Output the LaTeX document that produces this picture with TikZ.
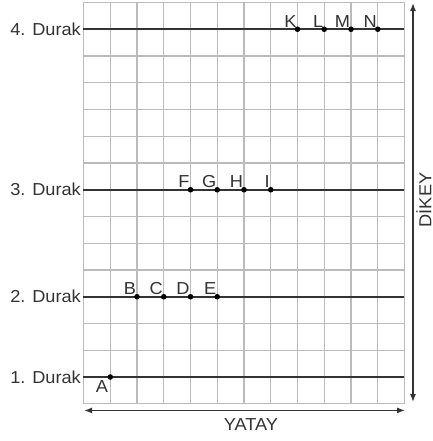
\documentclass[tikz,border=0pt]{standalone}
\usepackage{fontspec}
\setmainfont{Liberation Sans}[FakeStretch=1.05]
\usetikzlibrary{arrows.meta}
\definecolor{gridgray}{HTML}{BBBBBB}
\definecolor{linedark}{HTML}{333333}
\definecolor{txt}{HTML}{333333}
\begin{document}
\begin{tikzpicture}[x=20.0625pt,y=-20.0625pt,
  gridline/.style={draw=gridgray,line width=1pt},
  durakline/.style={draw=linedark,line width=1.4pt},
  durak/.style={anchor=east,inner sep=0pt,text=txt,font=\fontsize{13pt}{14pt}\selectfont},
  stop/.style={circle,fill=black,inner sep=0pt,minimum size=4.2pt},
  stoplbl/.style={anchor=south east,inner sep=0pt,text=txt,font=\fontsize{13pt}{14pt}\selectfont},
  axisarrow/.style={draw=linedark,line width=1.1pt,{Latex[length=6pt,width=4.5pt]}-{Latex[length=6pt,width=4.5pt]}},
  axislbl/.style={inner sep=0pt,text=txt,font=\fontsize{13pt}{14pt}\selectfont}]
\useasboundingbox (-3.1215,-0.0935) rectangle (13.065,16.393);
% grid
\foreach \i in {0,...,12} \draw[gridline] (\i,0) -- (\i,15);
\foreach \j in {0,...,15} \draw[gridline] (0,\j) -- (12,\j);
% stop lines
\foreach \r/\n in {1/4,7/3,11/2,14/1}{
  \coordinate (L\n) at (0,\r);
  \coordinate (R\n) at (12,\r);
  \draw[durakline] (L\n) -- (R\n);
  \node[durak] (T\n) at (-0.09,\r) {\n. Durak};
}
% stops
\foreach \c/\nm/\r in {8/K/1,9/L/1,10/M/1,11/N/1,4/F/7,5/G/7,6/H/7,7/I/7,2/B/11,3/C/11,4/D/11,5/E/11}{
  \node[stop] (\nm) at (\c,\r) {};
  \node[stoplbl,xshift=-0.6pt,yshift=1.2pt] (lbl\nm) at (\nm.center) {\nm};
}
\node[stop] (A) at (1,14) {};
\node[anchor=north east,inner sep=0pt,text=txt,font=\fontsize{13pt}{14pt}\selectfont,xshift=-1.5pt,yshift=-2.5pt] (lblA) at (A.center) {A};
% axes
\coordinate (vtop) at (12.318,0.02);
\coordinate (vbot) at (12.318,14.94);
\draw[axisarrow] (vtop) -- (vbot);
\coordinate (hl) at (0.02,15.25);
\coordinate (hr) at (12.02,15.25);
\draw[axisarrow] (hl) -- (hr);
\node[axislbl,rotate=90] (dikey) at (12.72,7.38) {DİKEY};
\node[axislbl] (yatay) at (6.26,15.79) {YATAY};
\end{tikzpicture}
\end{document}
